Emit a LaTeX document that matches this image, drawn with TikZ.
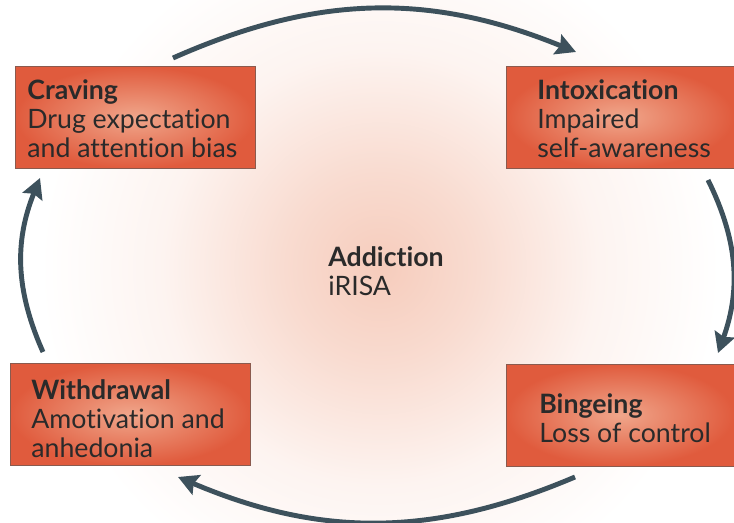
\documentclass[tikz,border=0pt]{standalone}
\usepackage{fontspec}
\setmainfont{Lato}[Ligatures=NoCommon]
\usepackage{tikz}
\usetikzlibrary{arrows.meta,positioning}
\definecolor{Ink}{HTML}{2A2A2A}
\definecolor{Slate}{HTML}{3D515C}
\definecolor{BoxDark}{HTML}{E05B3D}
\definecolor{BoxLight}{HTML}{F0A68B}
\definecolor{BoxEdge}{HTML}{8A5A4E}
\definecolor{Glow}{HTML}{F6CCBC}
\colorlet{GlowMid}{Glow!70!white}
\colorlet{GlowFar}{Glow!22!white}
\pgfdeclareradialshading{glow}{\pgfpointorigin}{color(0bp)=(Glow); color(7bp)=(GlowMid); color(16bp)=(GlowFar); color(25bp)=(white); color(50bp)=(white)}

\begin{document}
\begin{tikzpicture}[x=0.02cm,y=-0.02cm,
  stage/.style={rectangle,draw=BoxEdge,line width=0.5pt,inner color=BoxLight,outer color=BoxDark,minimum width=4.8cm,minimum height=2.04cm},
  txt/.style={anchor=west,inner sep=0pt,align=left,text=Ink,font=\fontsize{15.2}{16.6}\selectfont},
  flow/.style={draw=Slate,line width=2.8pt,-{Stealth[length=0.4cm,width=0.42cm,inset=0.06cm]}}
]
\useasboundingbox (0,0) rectangle (734,523);
\shade[shading=glow] (380,268) circle (340);
\node[stage] (crav) at (135,117.5) {};
\node[stage,minimum width=4.56cm] (intox) at (620,117) {};
\node[stage] (withd) at (130,414.5) {};
\node[stage,minimum width=4.56cm] (binge) at (620,415) {};
\node[txt] (cravtxt) at (27,119) {\textbf{Craving}\\Drug expectation\\and attention bias};
\node[txt] (intoxtxt) at (537,119) {\textbf{Intoxication}\\Impaired\\self-awareness};
\node[txt] (withdtxt) at (31,419) {\textbf{Withdrawal}\\Amotivation and\\anhedonia};
\node[txt] (bingetxt) at (539,418) {\textbf{Bingeing}\\Loss of control};
\node[txt] (core) at (328,271) {\textbf{Addiction}\\iRISA};
\coordinate (a1) at (173,58);
\coordinate (b1) at (576,52);
\coordinate (a2) at (708,180);
\coordinate (b2) at (718,353);
\coordinate (a3) at (575,477);
\coordinate (b3) at (178,477);
\coordinate (a4) at (43,352);
\coordinate (b4) at (40,178);
\foreach \a/\b in {a1/b1,a2/b2,a3/b3,a4/b4} {
  \draw[flow] (\a) to[bend left=23] (\b);
}
\end{tikzpicture}
\end{document}
